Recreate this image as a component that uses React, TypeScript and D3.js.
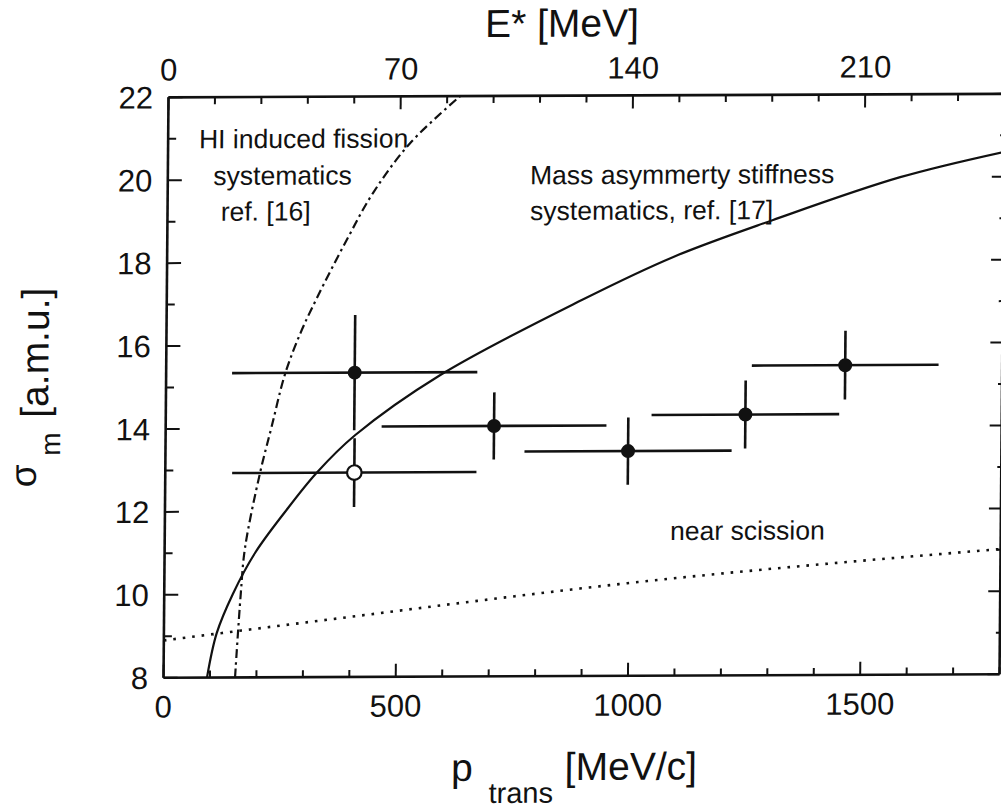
import React from 'react';
import * as d3 from 'd3';

// ---------- data ----------
const pTickLabels = [0, 500, 1000, 1500];
const eTickLabels = [0, 70, 140, 210];
const sigmaTickLabels = [8, 10, 12, 14, 16, 18, 20, 22];

// filled points: sigma_m vs p_trans
const dataP = [406, 707, 996, 1248, 1462];
const dataSigma = [15.34, 14.04, 13.42, 14.29, 15.47];
const dataPErr = [264, 242, 223, 202, 201];
const dataSigmaErr = [1.39, 0.81, 0.81, 0.82, 0.83];

// open point
const openP = [407];
const openSigma = [12.93];
const openPErr = [263];
const openSigmaErr = [0.83];

// Mass asymmetry stiffness systematics (solid)
const stiffP = [93.6, 113.7, 148, 194.7, 258, 326, 407.8, 589.6, 893.6, 1090, 1304, 1577, 1800];
const stiffSigma = [8, 9.07, 10.02, 11.0, 11.98, 12.93, 13.83, 15.27, 17.07, 18.1, 18.98, 20.0, 20.6];

// HI induced fission systematics (dash-dot)
const hiP = [154, 164.7, 173, 204, 228, 256.5, 288.5, 323, 386.3, 442, 521, 628];
const hiSigma = [8, 10.01, 11.12, 12.93, 14.04, 15.33, 16.3, 17.14, 18.54, 19.67, 20.87, 22];

// near scission (dotted)
const sciP = [0, 335, 1020, 1800];
const sciSigma = [8.9, 9.36, 10.26, 11.02];

const hiLabel = ['HI induced fission', 'systematics', 'ref. [16]'];
const stiffLabel = ['Mass asymmerty stiffness', 'systematics, ref. [17]'];
const sciLabel = 'near scission';

const FONT = 'Liberation Sans, Arial, Helvetica, sans-serif';

export default function App() {
  const W = 1001;
  const H = 808;
  const L = 166, R = 1002, T = 95.6, B = 676;

  const x = d3.scaleLinear().domain([0, 1800]).range([L, R]);
  const xTop = d3.scaleLinear().domain([0, 252]).range([L, R]);
  const y = d3.scaleLinear().domain([8, 22]).range([B, T]);

  const line = (ps: number[], ss: number[], curve: d3.CurveFactory) =>
    d3.line<number>()
      .x((_, i) => x(ps[i]))
      .y((_, i) => y(ss[i]))
      .curve(curve)(ps) || '';

  const pMinor = x.ticks(18);
  const eMinor = d3.range(0, 253, 14);
  const sTicks = y.ticks(14);

  const tickStroke = 2;

  return (
    <svg width={W} height={H} style={{ position: 'absolute', left: 0, top: 0, background: '#fff' }}>
      <rect x={0} y={0} width={W} height={H} fill="#fff" />
      <defs>
        <clipPath id="plotclip">
          <rect x={L} y={T} width={R - L} height={B - T} />
        </clipPath>
      </defs>
      <g transform="matrix(1,-0.0042,-0.0086,1,3.337,2.436)" fontFamily={FONT} fill="#111">
        {/* frame */}
        <g stroke="#111" strokeWidth={2.6} fill="none">
          <line x1={L} y1={B} x2={R} y2={B} />
          <line x1={L} y1={T} x2={R} y2={T} />
          <line x1={L} y1={T} x2={L} y2={B} />
          <line x1={R} y1={T} x2={R} y2={B} />
        </g>
        {/* ticks */}
        <g stroke="#111" strokeWidth={tickStroke}>
          {pMinor.map((v) => (
            <line key={'pb' + v} x1={x(v)} x2={x(v)} y1={B} y2={B - (v % 500 === 0 ? 13 : 7)} />
          ))}
          {eMinor.map((v) => (
            <line key={'et' + v} x1={xTop(v)} x2={xTop(v)} y1={T} y2={T + (v % 70 === 0 ? 13 : 7)} />
          ))}
          {sTicks.map((v) => (
            <line key={'sl' + v} x1={L} x2={L + (v % 2 === 0 ? 14 : 8)} y1={y(v)} y2={y(v)} />
          ))}
          {sTicks.map((v) => (
            <line key={'sr' + v} x1={R} x2={R - (v % 2 === 0 ? 12 : 4)} y1={y(v)} y2={y(v)} />
          ))}
        </g>
        {/* tick labels */}
        <g fontSize={31} stroke="none">
          {pTickLabels.map((v) => (
            <text key={'pl' + v} x={x(v)} y={B + 39.8} textAnchor="middle">{v}</text>
          ))}
          {eTickLabels.map((v) => (
            <text key={'el' + v} x={xTop(v)} y={78.7} textAnchor="middle">{v}</text>
          ))}
          {sigmaTickLabels.map((v) => (
            <text key={'sl' + v} x={150.5} y={y(v) + 11} textAnchor="end">{v}</text>
          ))}
        </g>
        {/* axis titles */}
        <text x={482} y={36.6} fontSize={39}>E* [MeV]</text>
        <text x={454.5} y={780.5} fontSize={39}>p</text>
        <text x={492} y={802.6} fontSize={29}>trans</text>
        <text x={568} y={780} fontSize={39}>[MeV/c]</text>
        <text transform="translate(36.5,485) rotate(-90)" fontSize={37}>σ</text>
        <text transform="translate(60.6,453.5) rotate(-90)" fontSize={28}>m</text>
        <text transform="translate(48.2,415.5) rotate(-90)" fontSize={39}>[a.m.u.]</text>

        {/* annotations */}
        <g fontSize={26.5}>
          <text x={196.9} y={146.7}>{hiLabel[0]}</text>
          <text x={211.6} y={183.4}>{hiLabel[1]}</text>
          <text x={219.2} y={219.2}>{hiLabel[2]}</text>
          <text x={528.3} y={184.1}>{stiffLabel[0]}</text>
          <text x={528.6} y={219.8}>{stiffLabel[1]}</text>
          <text x={671.3} y={540.4}>{sciLabel}</text>
        </g>

        {/* curves */}
        <g clipPath="url(#plotclip)" fill="none" stroke="#111">
          <path d={line(stiffP, stiffSigma, d3.curveCatmullRom.alpha(0.5))} strokeWidth={2.2} />
          <path d={line(hiP, hiSigma, d3.curveCatmullRom.alpha(0.5))} strokeWidth={2.2} strokeDasharray="9 4 2.5 4" />
          <path d={line(sciP, sciSigma, d3.curveMonotoneX)} strokeWidth={2.6} strokeDasharray="2.6 6.9" />
        </g>

        {/* error bars */}
        <g stroke="#111" strokeWidth={2.6}>
          {dataP.map((p, i) => (
            <g key={'e' + i}>
              <line x1={x(p - dataPErr[i])} x2={x(p + dataPErr[i])} y1={y(dataSigma[i])} y2={y(dataSigma[i])} />
              <line x1={x(p)} x2={x(p)} y1={y(dataSigma[i] - dataSigmaErr[i])} y2={y(dataSigma[i] + dataSigmaErr[i])} />
            </g>
          ))}
          {openP.map((p, i) => (
            <g key={'oe' + i}>
              <line x1={x(p - openPErr[i])} x2={x(p + openPErr[i])} y1={y(openSigma[i])} y2={y(openSigma[i])} />
              <line x1={x(p)} x2={x(p)} y1={y(openSigma[i] - openSigmaErr[i])} y2={y(openSigma[i] + openSigmaErr[i])} />
            </g>
          ))}
        </g>

        {/* markers */}
        {openP.map((p, i) => (
          <circle key={'oc' + i} cx={x(p)} cy={y(openSigma[i])} r={7.3} fill="#fff" stroke="#111" strokeWidth={2.2} />
        ))}
        {dataP.map((p, i) => (
          <circle key={'fc' + i} cx={x(p)} cy={y(dataSigma[i])} r={7} fill="#111" stroke="none" />
        ))}
      </g>
    </svg>
  );
}
